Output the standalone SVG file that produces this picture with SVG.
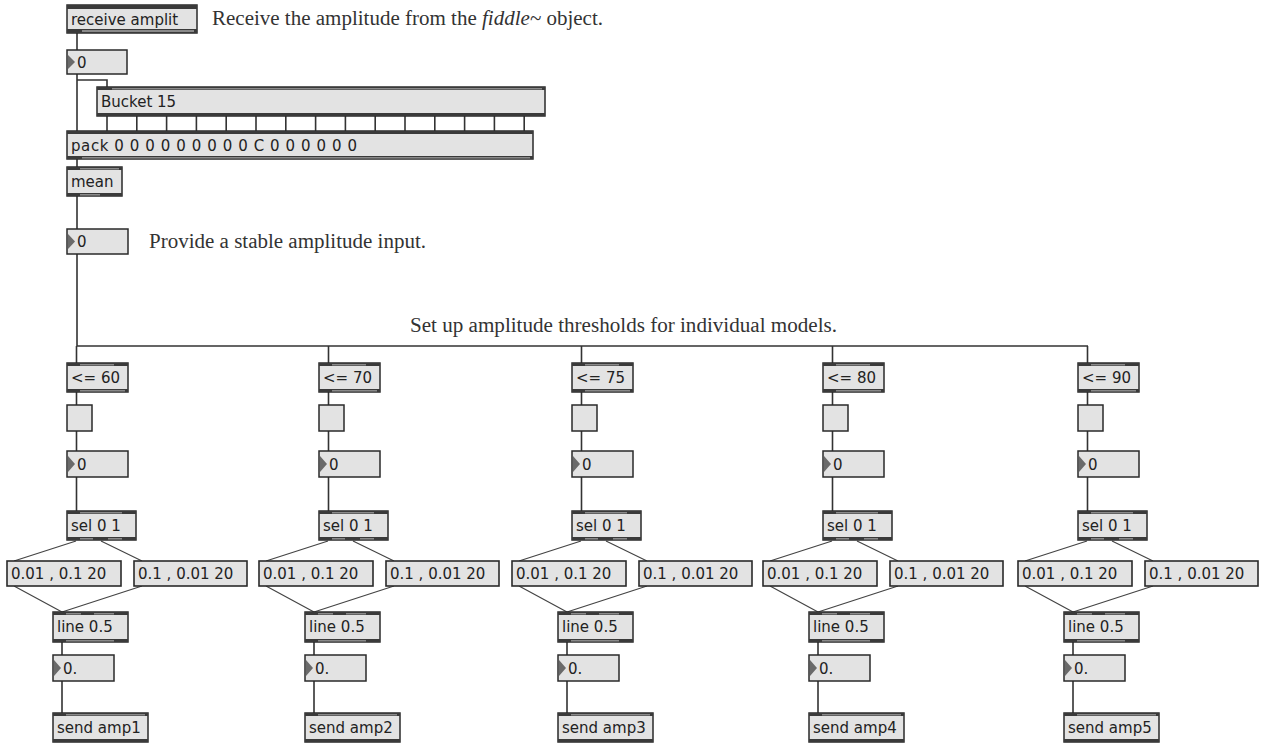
<svg xmlns="http://www.w3.org/2000/svg" width="1261" height="744" viewBox="0 0 1261 744">
<style>
.box{fill:#e3e3e3;stroke:#2a2a2a;stroke-width:1.5}
.msg{fill:#e3e3e3;stroke:#2a2a2a;stroke-width:1.6}
.bar{fill:#3a3a3a}
.gap{fill:#8a8a8a}
.tri{fill:#6a6a6a}
.t{font-family:"DejaVu Sans",sans-serif;font-size:15px;fill:#222}
.c{font-family:"Liberation Serif",serif;font-size:20px;fill:#333}
.w{stroke:#333;stroke-width:1.6;fill:none}
.d{stroke:#444;stroke-width:1.2;fill:none}
</style>
<rect width="1261" height="744" fill="#ffffff"/>

<g id="connectors">
  <path class="w" d="M77 33V50M77 74V131M77 80H107V87M77 159V167M77 196V229M77 254V346H1088"/>
  <path class="w" d="M107 116V131M136.8 116V131M166.6 116V131M196.4 116V131M226.2 116V131M256 116V131M285.8 116V131M315.6 116V131M345.4 116V131M375.2 116V131M405 116V131M434.8 116V131M464.6 116V131M494.4 116V131M524.2 116V131"/>
  <g id="conn-col1">
    <path class="w" d="M76.5 346V363M76.5 392V405M76.5 431V451M76.5 477V511M62 642V655M62 681V713"/>
    <path class="d" d="M76 541L14 561M101 541L142 561M14 586L62 612M142 586L62 612"/>
  </g>
  <g id="conn-col2" transform="translate(252,0)">
    <path class="w" d="M76.5 346V363M76.5 392V405M76.5 431V451M76.5 477V511M62 642V655M62 681V713"/>
    <path class="d" d="M76 541L14 561M101 541L142 561M14 586L62 612M142 586L62 612"/>
  </g>
  <g id="conn-col3" transform="translate(505,0)">
    <path class="w" d="M76.5 346V363M76.5 392V405M76.5 431V451M76.5 477V511M62 642V655M62 681V713"/>
    <path class="d" d="M76 541L14 561M101 541L142 561M14 586L62 612M142 586L62 612"/>
  </g>
  <g id="conn-col4" transform="translate(756,0)">
    <path class="w" d="M76.5 346V363M76.5 392V405M76.5 431V451M76.5 477V511M62 642V655M62 681V713"/>
    <path class="d" d="M76 541L14 561M101 541L142 561M14 586L62 612M142 586L62 612"/>
  </g>
  <g id="conn-col5" transform="translate(1011,0)">
    <path class="w" d="M76.5 346V363M76.5 392V405M76.5 431V451M76.5 477V511M62 642V655M62 681V713"/>
    <path class="d" d="M76 541L14 561M101 541L142 561M14 586L62 612M142 586L62 612"/>
  </g>
</g>

<!-- top chain -->
<g id="receive">
  <rect class="box" x="67" y="5" width="130" height="28"/>
  <rect class="bar" x="67" y="5" width="130" height="4"/>
  <rect class="bar" x="67" y="29" width="130" height="4"/>
  <rect class="gap" x="82" y="30" width="112" height="2"/>
  <text class="t" x="71" y="25">receive amplit</text>
</g>
<g id="num-in">
  <rect class="box" x="67" y="50" width="60" height="24"/>
  <polygon class="tri" points="68,55 75,62 68,69"/>
  <text class="t" x="77" y="68">0</text>
</g>
<g id="bucket">
  <rect class="box" x="97" y="87" width="448" height="29"/>
  <rect class="bar" x="97" y="87" width="448" height="3"/>
  <rect class="gap" x="112" y="88" width="430" height="1.5"/>
  <rect class="bar" x="97" y="113" width="448" height="3"/>
  <text class="t" x="101" y="107">Bucket 15</text>
</g>
<g id="pack">
  <rect class="box" x="67" y="131" width="466" height="28"/>
  <rect class="bar" x="67" y="131" width="466" height="3"/>
  <rect class="bar" x="67" y="156" width="466" height="3"/>
  <rect class="gap" x="82" y="157" width="448" height="1.5"/>
  <text class="t" x="71" y="151" textLength="286" lengthAdjust="spacing">pack 0 0 0 0 0 0 0 0 0 C 0 0 0 0 0 0</text>
</g>
<g id="mean">
  <rect class="box" x="67" y="167" width="55" height="29"/>
  <rect class="bar" x="67" y="167" width="55" height="3"/>
  <rect class="gap" x="80" y="168" width="39" height="1.5"/>
  <rect class="bar" x="67" y="193" width="55" height="3"/>
  <rect class="gap" x="80" y="194" width="20" height="1.5"/>
  <text class="t" x="71" y="187">mean</text>
</g>
<g id="num-stable">
  <rect class="box" x="67" y="229" width="61" height="25"/>
  <polygon class="tri" points="68,234 75,241.5 68,249"/>
  <text class="t" x="77" y="247">0</text>
</g>

<!-- comments -->
<g id="comments">
  <text class="c" x="212" y="25" textLength="391" lengthAdjust="spacingAndGlyphs">Receive the amplitude from the <tspan font-style="italic">fiddle~</tspan> object.</text>
  <text class="c" x="149" y="248" textLength="277" lengthAdjust="spacingAndGlyphs">Provide a stable amplitude input.</text>
  <text class="c" x="410" y="332" textLength="427" lengthAdjust="spacingAndGlyphs">Set up amplitude thresholds for individual models.</text>
</g>

<!-- column 1 -->
<g id="thr1"><rect class="box" x="67" y="363" width="61" height="29"/><rect class="bar" x="67" y="363" width="61" height="3"/><rect class="gap" x="80" y="364" width="34" height="1.5"/><rect class="bar" x="67" y="389" width="61" height="3"/><rect class="gap" x="80" y="390" width="45" height="1.5"/><text class="t" x="71" y="383">&lt;= 60</text></g>
<g id="tog1"><rect class="box" x="67" y="405" width="25" height="26"/></g>
<g id="num1"><rect class="box" x="67" y="451" width="61" height="26"/><polygon class="tri" points="68,456 75,464 68,472"/><text class="t" x="77" y="470">0</text></g>
<g id="sel1"><rect class="box" x="67" y="511" width="69" height="29"/><rect class="bar" x="67" y="511" width="69" height="3"/><rect class="gap" x="80" y="512" width="42" height="1.5"/><rect class="bar" x="67" y="537" width="69" height="3"/><rect class="gap" x="80" y="538" width="13" height="1.5"/><rect class="gap" x="108" y="538" width="14" height="1.5"/><text class="t" x="71" y="531">sel 0 1</text></g>
<g id="msgA1"><rect class="msg" x="7" y="561" width="114" height="25"/><text class="t" x="11" y="579">0.01 , 0.1 20</text></g>
<g id="msgB1"><rect class="msg" x="134" y="561" width="113" height="25"/><text class="t" x="138" y="579">0.1 , 0.01 20</text></g>
<g id="line1"><rect class="box" x="53" y="612" width="75" height="30"/><rect class="bar" x="53" y="612" width="75" height="3"/><rect class="gap" x="66" y="613" width="15" height="1.5"/><rect class="gap" x="94" y="613" width="20" height="1.5"/><rect class="bar" x="53" y="639" width="75" height="3"/><rect class="gap" x="66" y="640" width="48" height="1.5"/><text class="t" x="57" y="632">line 0.5</text></g>
<g id="flt1"><rect class="box" x="53" y="655" width="61" height="26"/><polygon class="tri" points="54,660 61,668 54,676"/><text class="t" x="63" y="674">0.</text></g>
<g id="send1"><rect class="box" x="53" y="713" width="95" height="29"/><rect class="bar" x="53" y="713" width="95" height="3"/><rect class="gap" x="66" y="714" width="79" height="1.5"/><rect class="bar" x="53" y="739" width="95" height="3"/><text class="t" x="57" y="733">send amp1</text></g>

<!-- column 2 -->
<g id="thr2" transform="translate(252,0)"><rect class="box" x="67" y="363" width="61" height="29"/><rect class="bar" x="67" y="363" width="61" height="3"/><rect class="gap" x="80" y="364" width="34" height="1.5"/><rect class="bar" x="67" y="389" width="61" height="3"/><rect class="gap" x="80" y="390" width="45" height="1.5"/><text class="t" x="71" y="383">&lt;= 70</text></g>
<g id="tog2" transform="translate(252,0)"><rect class="box" x="67" y="405" width="25" height="26"/></g>
<g id="num2" transform="translate(252,0)"><rect class="box" x="67" y="451" width="61" height="26"/><polygon class="tri" points="68,456 75,464 68,472"/><text class="t" x="77" y="470">0</text></g>
<g id="sel2" transform="translate(252,0)"><rect class="box" x="67" y="511" width="69" height="29"/><rect class="bar" x="67" y="511" width="69" height="3"/><rect class="gap" x="80" y="512" width="42" height="1.5"/><rect class="bar" x="67" y="537" width="69" height="3"/><rect class="gap" x="80" y="538" width="13" height="1.5"/><rect class="gap" x="108" y="538" width="14" height="1.5"/><text class="t" x="71" y="531">sel 0 1</text></g>
<g id="msgA2" transform="translate(252,0)"><rect class="msg" x="7" y="561" width="114" height="25"/><text class="t" x="11" y="579">0.01 , 0.1 20</text></g>
<g id="msgB2" transform="translate(252,0)"><rect class="msg" x="134" y="561" width="113" height="25"/><text class="t" x="138" y="579">0.1 , 0.01 20</text></g>
<g id="line2" transform="translate(252,0)"><rect class="box" x="53" y="612" width="75" height="30"/><rect class="bar" x="53" y="612" width="75" height="3"/><rect class="gap" x="66" y="613" width="15" height="1.5"/><rect class="gap" x="94" y="613" width="20" height="1.5"/><rect class="bar" x="53" y="639" width="75" height="3"/><rect class="gap" x="66" y="640" width="48" height="1.5"/><text class="t" x="57" y="632">line 0.5</text></g>
<g id="flt2" transform="translate(252,0)"><rect class="box" x="53" y="655" width="61" height="26"/><polygon class="tri" points="54,660 61,668 54,676"/><text class="t" x="63" y="674">0.</text></g>
<g id="send2" transform="translate(252,0)"><rect class="box" x="53" y="713" width="95" height="29"/><rect class="bar" x="53" y="713" width="95" height="3"/><rect class="gap" x="66" y="714" width="79" height="1.5"/><rect class="bar" x="53" y="739" width="95" height="3"/><text class="t" x="57" y="733">send amp2</text></g>

<!-- column 3 -->
<g id="thr3" transform="translate(505,0)"><rect class="box" x="67" y="363" width="61" height="29"/><rect class="bar" x="67" y="363" width="61" height="3"/><rect class="gap" x="80" y="364" width="34" height="1.5"/><rect class="bar" x="67" y="389" width="61" height="3"/><rect class="gap" x="80" y="390" width="45" height="1.5"/><text class="t" x="71" y="383">&lt;= 75</text></g>
<g id="tog3" transform="translate(505,0)"><rect class="box" x="67" y="405" width="25" height="26"/></g>
<g id="num3" transform="translate(505,0)"><rect class="box" x="67" y="451" width="61" height="26"/><polygon class="tri" points="68,456 75,464 68,472"/><text class="t" x="77" y="470">0</text></g>
<g id="sel3" transform="translate(505,0)"><rect class="box" x="67" y="511" width="69" height="29"/><rect class="bar" x="67" y="511" width="69" height="3"/><rect class="gap" x="80" y="512" width="42" height="1.5"/><rect class="bar" x="67" y="537" width="69" height="3"/><rect class="gap" x="80" y="538" width="13" height="1.5"/><rect class="gap" x="108" y="538" width="14" height="1.5"/><text class="t" x="71" y="531">sel 0 1</text></g>
<g id="msgA3" transform="translate(505,0)"><rect class="msg" x="7" y="561" width="114" height="25"/><text class="t" x="11" y="579">0.01 , 0.1 20</text></g>
<g id="msgB3" transform="translate(505,0)"><rect class="msg" x="134" y="561" width="113" height="25"/><text class="t" x="138" y="579">0.1 , 0.01 20</text></g>
<g id="line3" transform="translate(505,0)"><rect class="box" x="53" y="612" width="75" height="30"/><rect class="bar" x="53" y="612" width="75" height="3"/><rect class="gap" x="66" y="613" width="15" height="1.5"/><rect class="gap" x="94" y="613" width="20" height="1.5"/><rect class="bar" x="53" y="639" width="75" height="3"/><rect class="gap" x="66" y="640" width="48" height="1.5"/><text class="t" x="57" y="632">line 0.5</text></g>
<g id="flt3" transform="translate(505,0)"><rect class="box" x="53" y="655" width="61" height="26"/><polygon class="tri" points="54,660 61,668 54,676"/><text class="t" x="63" y="674">0.</text></g>
<g id="send3" transform="translate(505,0)"><rect class="box" x="53" y="713" width="95" height="29"/><rect class="bar" x="53" y="713" width="95" height="3"/><rect class="gap" x="66" y="714" width="79" height="1.5"/><rect class="bar" x="53" y="739" width="95" height="3"/><text class="t" x="57" y="733">send amp3</text></g>

<!-- column 4 -->
<g id="thr4" transform="translate(756,0)"><rect class="box" x="67" y="363" width="61" height="29"/><rect class="bar" x="67" y="363" width="61" height="3"/><rect class="gap" x="80" y="364" width="34" height="1.5"/><rect class="bar" x="67" y="389" width="61" height="3"/><rect class="gap" x="80" y="390" width="45" height="1.5"/><text class="t" x="71" y="383">&lt;= 80</text></g>
<g id="tog4" transform="translate(756,0)"><rect class="box" x="67" y="405" width="25" height="26"/></g>
<g id="num4" transform="translate(756,0)"><rect class="box" x="67" y="451" width="61" height="26"/><polygon class="tri" points="68,456 75,464 68,472"/><text class="t" x="77" y="470">0</text></g>
<g id="sel4" transform="translate(756,0)"><rect class="box" x="67" y="511" width="69" height="29"/><rect class="bar" x="67" y="511" width="69" height="3"/><rect class="gap" x="80" y="512" width="42" height="1.5"/><rect class="bar" x="67" y="537" width="69" height="3"/><rect class="gap" x="80" y="538" width="13" height="1.5"/><rect class="gap" x="108" y="538" width="14" height="1.5"/><text class="t" x="71" y="531">sel 0 1</text></g>
<g id="msgA4" transform="translate(756,0)"><rect class="msg" x="7" y="561" width="114" height="25"/><text class="t" x="11" y="579">0.01 , 0.1 20</text></g>
<g id="msgB4" transform="translate(756,0)"><rect class="msg" x="134" y="561" width="113" height="25"/><text class="t" x="138" y="579">0.1 , 0.01 20</text></g>
<g id="line4" transform="translate(756,0)"><rect class="box" x="53" y="612" width="75" height="30"/><rect class="bar" x="53" y="612" width="75" height="3"/><rect class="gap" x="66" y="613" width="15" height="1.5"/><rect class="gap" x="94" y="613" width="20" height="1.5"/><rect class="bar" x="53" y="639" width="75" height="3"/><rect class="gap" x="66" y="640" width="48" height="1.5"/><text class="t" x="57" y="632">line 0.5</text></g>
<g id="flt4" transform="translate(756,0)"><rect class="box" x="53" y="655" width="61" height="26"/><polygon class="tri" points="54,660 61,668 54,676"/><text class="t" x="63" y="674">0.</text></g>
<g id="send4" transform="translate(756,0)"><rect class="box" x="53" y="713" width="95" height="29"/><rect class="bar" x="53" y="713" width="95" height="3"/><rect class="gap" x="66" y="714" width="79" height="1.5"/><rect class="bar" x="53" y="739" width="95" height="3"/><text class="t" x="57" y="733">send amp4</text></g>

<!-- column 5 -->
<g id="thr5" transform="translate(1011,0)"><rect class="box" x="67" y="363" width="61" height="29"/><rect class="bar" x="67" y="363" width="61" height="3"/><rect class="gap" x="80" y="364" width="34" height="1.5"/><rect class="bar" x="67" y="389" width="61" height="3"/><rect class="gap" x="80" y="390" width="45" height="1.5"/><text class="t" x="71" y="383">&lt;= 90</text></g>
<g id="tog5" transform="translate(1011,0)"><rect class="box" x="67" y="405" width="25" height="26"/></g>
<g id="num5" transform="translate(1011,0)"><rect class="box" x="67" y="451" width="61" height="26"/><polygon class="tri" points="68,456 75,464 68,472"/><text class="t" x="77" y="470">0</text></g>
<g id="sel5" transform="translate(1011,0)"><rect class="box" x="67" y="511" width="69" height="29"/><rect class="bar" x="67" y="511" width="69" height="3"/><rect class="gap" x="80" y="512" width="42" height="1.5"/><rect class="bar" x="67" y="537" width="69" height="3"/><rect class="gap" x="80" y="538" width="13" height="1.5"/><rect class="gap" x="108" y="538" width="14" height="1.5"/><text class="t" x="71" y="531">sel 0 1</text></g>
<g id="msgA5" transform="translate(1011,0)"><rect class="msg" x="7" y="561" width="114" height="25"/><text class="t" x="11" y="579">0.01 , 0.1 20</text></g>
<g id="msgB5" transform="translate(1011,0)"><rect class="msg" x="134" y="561" width="113" height="25"/><text class="t" x="138" y="579">0.1 , 0.01 20</text></g>
<g id="line5" transform="translate(1011,0)"><rect class="box" x="53" y="612" width="75" height="30"/><rect class="bar" x="53" y="612" width="75" height="3"/><rect class="gap" x="66" y="613" width="15" height="1.5"/><rect class="gap" x="94" y="613" width="20" height="1.5"/><rect class="bar" x="53" y="639" width="75" height="3"/><rect class="gap" x="66" y="640" width="48" height="1.5"/><text class="t" x="57" y="632">line 0.5</text></g>
<g id="flt5" transform="translate(1011,0)"><rect class="box" x="53" y="655" width="61" height="26"/><polygon class="tri" points="54,660 61,668 54,676"/><text class="t" x="63" y="674">0.</text></g>
<g id="send5" transform="translate(1011,0)"><rect class="box" x="53" y="713" width="95" height="29"/><rect class="bar" x="53" y="713" width="95" height="3"/><rect class="gap" x="66" y="714" width="79" height="1.5"/><rect class="bar" x="53" y="739" width="95" height="3"/><text class="t" x="57" y="733">send amp5</text></g>
</svg>
